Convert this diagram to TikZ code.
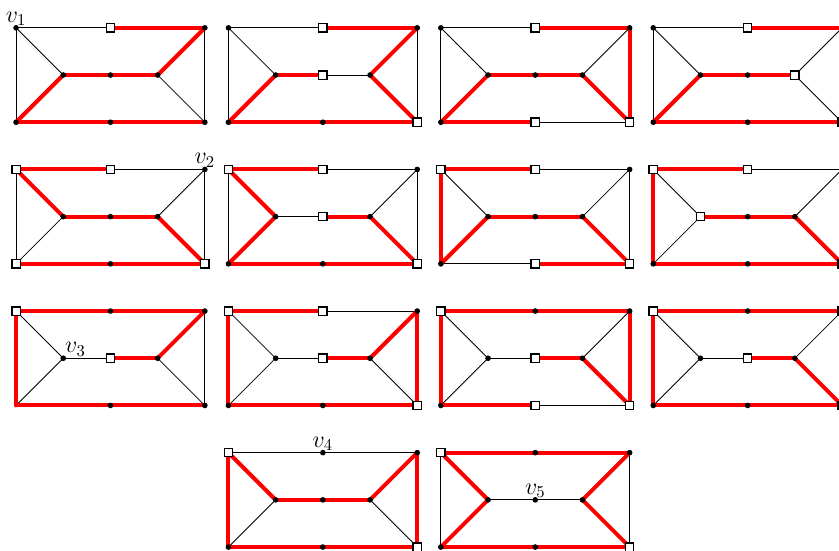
\documentclass[tikz,border=0pt]{standalone}
\usepackage{amsmath,amssymb}
\usepackage{tikz}

\begin{document}
\begin{tikzpicture}[x=1cm, y=1cm, every node/.style={font=\Large, inner sep=1pt},
	edge/.style={black, line width=0.5pt},
	redge/.style={red, line width=2.4pt, line cap=round},
	dot/.style={circle, fill=black, inner sep=0pt, minimum size=3.4pt},
	sq/.style={rectangle, draw=black, fill=white, line width=0.8pt, inner sep=0pt, minimum size=5pt}]
	\useasboundingbox (-0.34,0.59) rectangle (17.435,-11.08);
	\clip (-0.34,0.59) rectangle (17.435,-11.08);
	\def\nodot{9BL}
	\foreach \gx/\gy/\reds/\sqs [count=\n] in {
		0/0/{TM/TR,TR/IR,IR/IM,IM/IL,IL/BL,BL/BM,BM/BR}/{TM},
		4.5/0/{TM/TR,TR/IR,IR/BR,IL/IM,IL/BL,BL/BM,BM/BR}/{TM,IM,BR},
		9/0/{TM/TR,TR/BR,IR/BR,IL/IM,IM/IR,IL/BL,BL/BM}/{TM,BM,BR},
		13.5/0/{TM/TR,TR/BR,IL/IM,IM/IR,IL/BL,BL/BM,BM/BR}/{TM,IR,BR},
		0/-3/{TL/TM,TL/IL,IL/IM,IM/IR,IR/BR,BL/BM,BM/BR}/{TL,TM,BL,BR},
		4.5/-3/{TL/TM,TL/IL,IL/BL,IM/IR,IR/BR,BL/BM,BM/BR}/{TL,TM,IM,BR},
		9/-3/{TL/TM,TL/BL,BL/IL,IL/IM,IM/IR,IR/BR,BM/BR}/{TL,TM,BM,BR},
		13.5/-3/{TL/TM,TL/BL,IL/IM,IM/IR,IR/BR,BL/BM,BM/BR}/{TL,TM,IL,BR},
		0/-6/{TL/TM,TM/TR,TR/IR,IR/IM,TL/BL,BL/BM,BM/BR}/{TL,IM},
		4.5/-6/{TL/TM,TL/BL,TR/IR,IR/IM,TR/BR,BL/BM,BM/BR}/{TL,TM,IM,BR},
		9/-6/{TL/TM,TM/TR,TR/BR,TL/BL,IM/IR,IR/BR,BL/BM}/{TL,IM,BM,BR},
		13.5/-6/{TL/TM,TM/TR,TL/BL,IM/IR,IR/BR,BL/BM,BM/BR}/{TL,TR,IM,BR},
		4.5/-9/{TL/BL,TL/IL,IL/IM,IM/IR,IR/TR,TR/BR,BL/BM,BM/BR}/{TL,BR},
		9/-9/{TL/TM,TM/TR,TL/IL,IL/BL,IR/TR,IR/BR,BL/BM,BM/BR}/{TL,BR}} {
		\foreach \v/\dx/\dy in {TL/0/0,TM/2/0,TR/4/0,IL/1/-1,IM/2/-1,IR/3/-1,BL/0/-2,BM/2/-2,BR/4/-2}
			\coordinate (g\n\v) at (\gx+\dx,\gy+\dy);
		\foreach \a/\b in {TL/TM,TM/TR,BL/BM,BM/BR,TL/BL,TR/BR,TL/IL,BL/IL,IL/IM,IM/IR,IR/TR,IR/BR}
			\draw[edge] (g\n\a) -- (g\n\b);
		\foreach \a/\b in \reds
			\draw[redge] (g\n\a) -- (g\n\b);
		\foreach \v in {TL,TM,TR,IL,IM,IR,BL,BM,BR} {
			\edef\cur{\n\v}
			\ifx\cur\nodot \else \node[dot] (g\n\v d) at (g\n\v) {}; \fi
		}
		\foreach \v in \sqs
			\node[sq] (g\n\v s) at (g\n\v) {};
	}
	\node[above] (lv1) at (g1TL) {$v_1$};
	\node[above] (lv2) at (g5TR) {$v_2$};
	\node[above right] (lv3) at (g9IL) {$v_3$};
	\node[above] (lv4) at (g13TM) {$v_4$};
	\node[above] (lv5) at (g14IM) {$v_5$};
\end{tikzpicture}
\end{document}
